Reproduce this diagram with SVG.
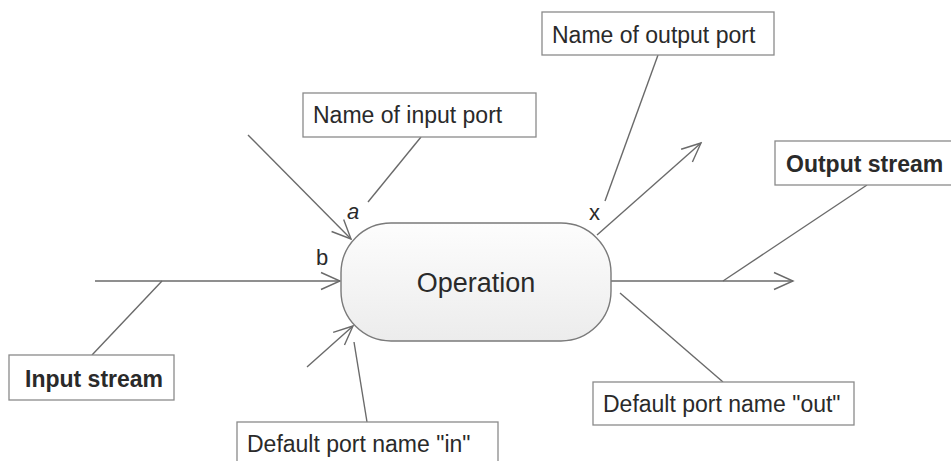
<svg xmlns="http://www.w3.org/2000/svg" width="951" height="461" viewBox="0 0 951 461">
<defs>
<linearGradient id="opfill" x1="0" y1="0" x2="0" y2="1">
<stop offset="0" stop-color="#fdfdfd"/>
<stop offset="1" stop-color="#ececec"/>
</linearGradient>
<marker id="arr" markerUnits="userSpaceOnUse" viewBox="-22 -11 24 22" refX="0" refY="0" markerWidth="24" markerHeight="22" orient="auto">
<path d="M-19,-8.5 L0,0 L-19,8.5" fill="none" stroke="#6a6a6a" stroke-width="1.4"/>
</marker>
<style>
.box{fill:#ffffff;stroke:#8a8a8a;stroke-width:1.3}
.lbl{font-family:"Liberation Sans",Arial,sans-serif;font-size:23px;fill:#2a2a2a}
.bold{font-weight:bold}
.port{font-family:"Liberation Sans",Arial,sans-serif;font-size:22px;fill:#2a2a2a}
.ln{stroke:#6a6a6a;stroke-width:1.4;fill:none}
.arr{marker-end:url(#arr)}
</style>
</defs>
<rect width="951" height="461" fill="#ffffff"/>
<g id="connectors">
<line class="ln arr" x1="248" y1="135" x2="351" y2="239"/>
<line class="ln arr" x1="95" y1="281" x2="340" y2="281"/>
<line class="ln arr" x1="307" y1="367" x2="353" y2="326"/>
<line class="ln arr" x1="597" y1="235" x2="701" y2="143"/>
<line class="ln arr" x1="611" y1="281" x2="793" y2="281"/>
<line class="ln" x1="421" y1="137" x2="368" y2="202"/>
<line class="ln" x1="162" y1="281" x2="92" y2="355"/>
<line class="ln" x1="354" y1="342" x2="367" y2="422"/>
<line class="ln" x1="658" y1="55" x2="605" y2="201"/>
<line class="ln" x1="867" y1="185" x2="723" y2="281"/>
<line class="ln" x1="620" y1="293" x2="723" y2="382"/>
</g>
<g id="operation">
<rect x="341" y="223" width="270" height="118" rx="50" ry="50" fill="url(#opfill)" stroke="#7a7a7a" stroke-width="1.4"/>
<text x="476" y="292" text-anchor="middle" font-family="Liberation Sans,Arial,sans-serif" font-size="27" fill="#2a2a2a">Operation</text>
</g>
<g id="port-a"><text class="port" x="347" y="219" font-style="italic">a</text></g>
<g id="port-b"><text class="port" x="316" y="265">b</text></g>
<g id="port-x"><text class="port" x="589" y="220">x</text></g>
<g id="name-input-port">
<rect class="box" x="303" y="93" width="233" height="44"/>
<text class="lbl" x="313" y="123">Name of input port</text>
</g>
<g id="name-output-port">
<rect class="box" x="542" y="12" width="232" height="43"/>
<text class="lbl" x="552" y="43">Name of output port</text>
</g>
<g id="output-stream">
<rect class="box" x="775" y="141" width="190" height="44"/>
<text class="lbl bold" x="786" y="172">Output stream</text>
</g>
<g id="input-stream">
<rect class="box" x="9" y="355" width="165" height="45"/>
<text class="lbl bold" x="25" y="387">Input stream</text>
</g>
<g id="default-in">
<rect class="box" x="237" y="422" width="261" height="50"/>
<text class="lbl" x="247" y="452">Default port name "in"</text>
</g>
<g id="default-out">
<rect class="box" x="593" y="382" width="261" height="43"/>
<text class="lbl" x="603" y="412">Default port name "out"</text>
</g>
</svg>
